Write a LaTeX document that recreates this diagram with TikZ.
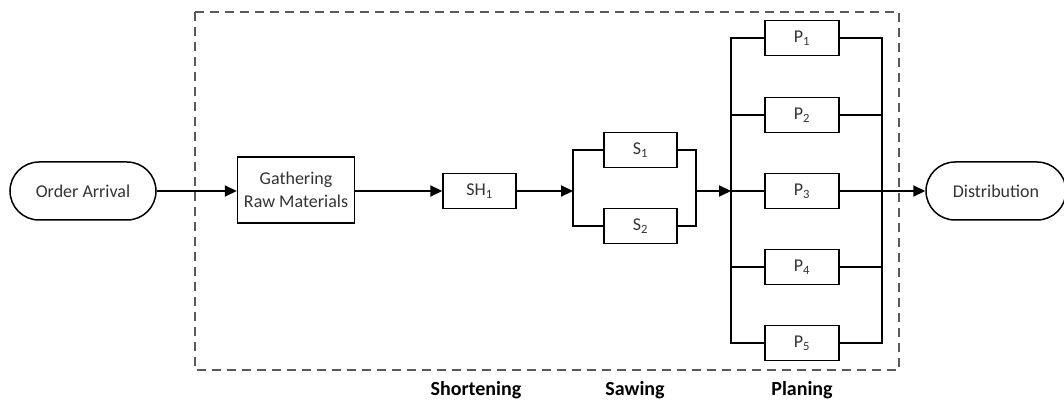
\documentclass[tikz,border=0pt]{standalone}
\usepackage{fontspec}
\setmainfont{Carlito}
\usetikzlibrary{arrows.meta}
\begin{document}
\begin{tikzpicture}[x=1pt,y=-1pt,
  every node/.style={font=\fontsize{18}{20}\selectfont, text=black!80, inner sep=0pt},
  proc/.style={draw, line width=1.5pt, minimum width=73pt, minimum height=35pt},
  term/.style={draw, line width=1.5pt, rounded corners=29pt, minimum height=58pt},
  wire/.style={line width=2pt},
  flow/.style={wire, -{Triangle[length=12pt,width=11pt]}},
  stage/.style={font=\fontsize{20}{22}\selectfont\bfseries, text=black}]
\useasboundingbox (0,0) rectangle (1064,403);

% process boundary
\draw[line width=1.6pt, black!65, dash pattern=on 9pt off 6pt] (195,12) rectangle (899,370);

% terminals and steps
\node[term, minimum width=146pt] (oa) at (83,191) {Order Arrival};
\node[proc, minimum width=117pt, minimum height=66pt, align=center] (gr) at (296,190) {Gathering\\[3pt]Raw Materials};
\node[proc] (sh) at (479.5,191) {SH\textsubscript{1}};
\node[proc] (s1) at (640.5,150) {S\textsubscript{1}};
\node[proc] (s2) at (640.5,226) {S\textsubscript{2}};
\node[proc, minimum width=74pt] (p1) at (802,38) {P\textsubscript{1}};
\node[proc, minimum width=74pt] (p2) at (802,115) {P\textsubscript{2}};
\node[proc, minimum width=74pt] (p3) at (802,191) {P\textsubscript{3}};
\node[proc, minimum width=74pt] (p4) at (802,267) {P\textsubscript{4}};
\node[proc, minimum width=74pt] (p5) at (802,343) {P\textsubscript{5}};
\node[term, minimum width=140pt] (di) at (996,191) {Distribution};

% branch points
\coordinate (ss) at (573,191);
\coordinate (sm) at (696,191);
\coordinate (ps) at (731,191);
\coordinate (pm) at (882,191);

% main flow
\draw[flow] (oa.east) -- (gr.west |- oa.east);
\draw[flow] (gr.east |- sh.west) -- (sh.west);
\draw[flow] (sh.east) -- (ss);
\draw[flow] (sm) -- (ps);
\draw[flow] (pm) -- (di.west |- pm);

% sawing in parallel
\draw[wire] (s1.west) -| (ss) |- (s2.west);
\draw[wire] (s1.east) -| (sm) |- (s2.east);

% planing in parallel
\draw[wire] (p1.west) -| (ps) |- (p5.west);
\draw[wire] (p1.east) -| (pm) |- (p5.east);
\draw[wire] (ps |- p2.west) -- (p2.west);
\draw[wire] (ps) -- (p3.west);
\draw[wire] (ps |- p4.west) -- (p4.west);
\draw[wire] (p2.east) -- (pm |- p2.east);
\draw[wire] (p3.east) -- (pm);
\draw[wire] (p4.east) -- (pm |- p4.east);

% stage labels
\node[stage] (l1) at (476,390) {Shortening};
\node[stage] (l2) at (635,390) {Sawing};
\node[stage] (l3) at (802,390) {Planing};
\end{tikzpicture}
\end{document}
